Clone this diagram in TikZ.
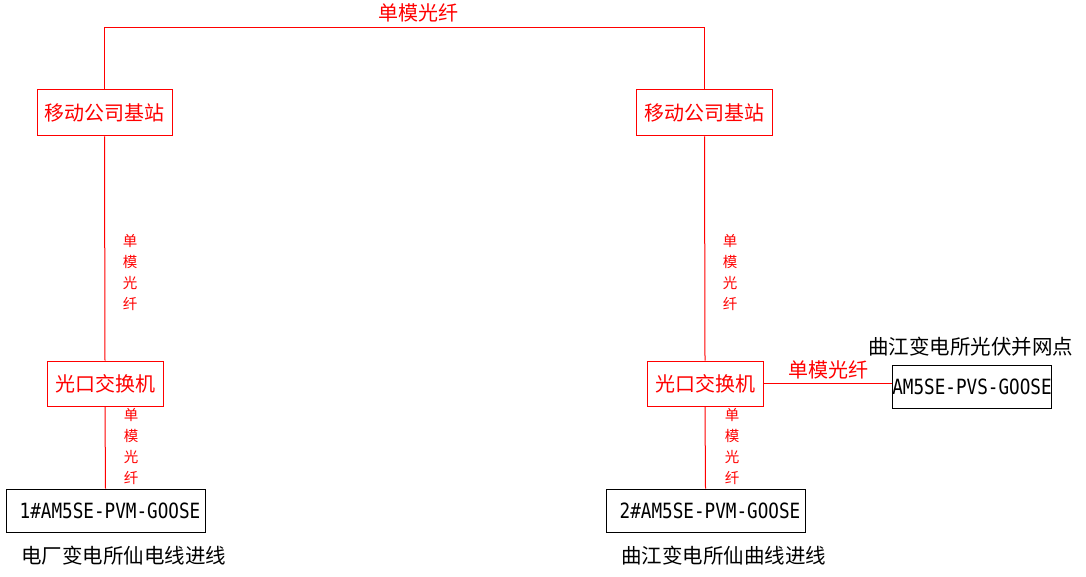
\documentclass[tikz,border=0pt]{standalone}
\usepackage{fontspec}
\setmainfont{Noto Sans CJK SC}
\newfontfamily\gmono[FakeStretch=0.84]{DejaVu Sans Mono}
\begin{document}
\begin{tikzpicture}[x=1pt,y=1pt,
  redbox/.style={draw=red,line width=1pt,text=red,inner sep=0pt,minimum height=46pt,font=\fontsize{20}{24}\selectfont},
  blkbox/.style={draw=black,line width=1pt,text=black,inner sep=0pt,minimum height=43pt,font=\gmono\fontsize{21}{24}\selectfont},
  link/.style={draw=red,line width=1pt},
  vlab/.style={text=red,align=center,inner sep=0pt,font=\fontsize{14.5}{21}\selectfont},
  hlab/.style={text=red,inner sep=0pt,font=\fontsize{20}{24}\selectfont},
  captext/.style={text=black,inner sep=0pt,font=\fontsize{20.5}{24}\selectfont}]
\useasboundingbox (0,0) rectangle (1086,-577);
\node[redbox,minimum width=135pt] (bs1) at (104.5,-113) {移动公司基站};
\node[redbox,minimum width=136pt] (bs2) at (704.5,-113) {移动公司基站};
\node[redbox,minimum width=116pt,minimum height=45pt] (sw1) at (105,-383.5) {光口交换机};
\node[redbox,minimum width=116pt,minimum height=45pt] (sw2) at (705,-383.5) {光口交换机};
\node[blkbox,minimum width=199pt] (g1) at (105.5,-510.5) {\hspace*{9pt}1\#AM5SE-PVM-GOOSE};
\node[blkbox,minimum width=199pt] (g2) at (705.5,-510.5) {\hspace*{9pt}2\#AM5SE-PVM-GOOSE};
\node[blkbox,minimum width=158pt] (pvs) at (972,-386.5) {AM5SE-PVS-GOOSE};
\coordinate (tl) at (104.5,-28);
\coordinate (tr) at (704.5,-28);
\draw[link] (bs1.north) -- (tl) -- (tr) -- (bs2.north);
\draw[link] (bs1.south) -- (sw1.north);
\draw[link] (bs2.south) -- (sw2.north);
\draw[link] (sw1.south) -- (g1.north);
\draw[link] (sw2.south) -- (g2.north);
\draw[link] ([yshift=0.5pt]sw2.east) -- ([yshift=0.5pt]sw2.east -| pvs.west);
\node[hlab] (ltop) at (418,-13) {单模光纤};
\node[hlab] (lright) at (828,-370) {单模光纤};
\node[vlab] (v1) at (130,-273) {单\\模\\光\\纤};
\node[vlab] (v2) at (131,-447) {单\\模\\光\\纤};
\node[vlab] (v3) at (730,-273) {单\\模\\光\\纤};
\node[vlab] (v4) at (732,-447) {单\\模\\光\\纤};
\node[captext] (c1) at (123.5,-556) {电厂变电所仙电线进线};
\node[captext] (c2) at (723.5,-556) {曲江变电所仙曲线进线};
\node[captext] (c3) at (970.5,-347) {曲江变电所光伏并网点};
\end{tikzpicture}
\end{document}
